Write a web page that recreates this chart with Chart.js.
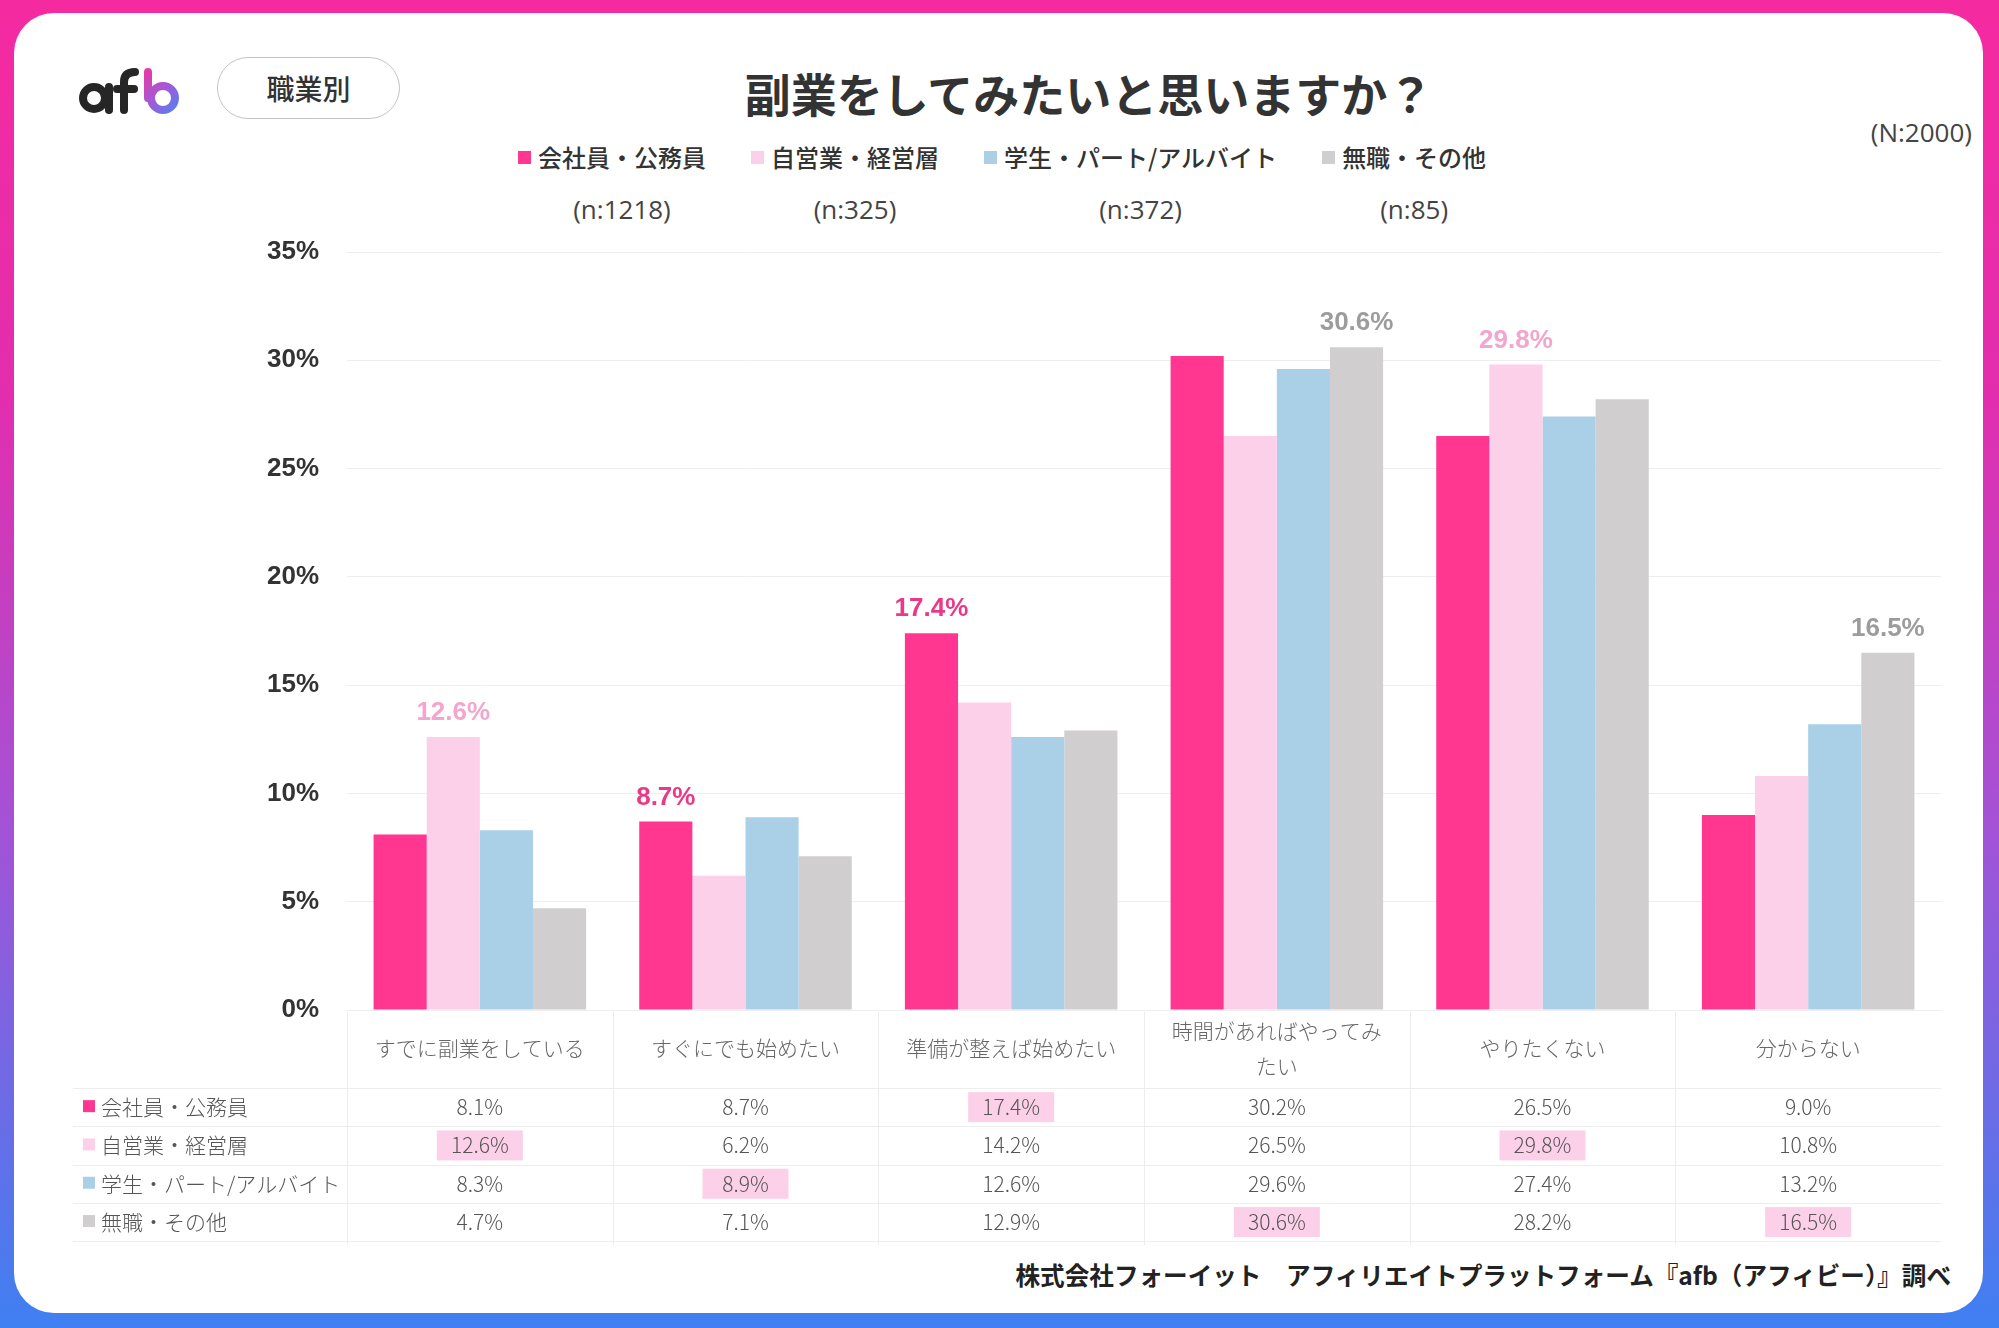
<!DOCTYPE html>
<html lang="ja">
<head>
<meta charset="utf-8">
<title>副業をしてみたいと思いますか？</title>
<script src="https://cdn.jsdelivr.net/npm/chart.js@4.4.1/dist/chart.umd.min.js"></script>
<style>
  html, body { margin: 0; padding: 0; }
  body {
    width: 1999px; height: 1328px; overflow: hidden; position: relative;
    background: linear-gradient(180deg, #f52aa0 0%, #e22eae 30%, #a452d6 62%, #3f80f2 100%);
    font-family: "Noto Sans CJK JP", "Noto Sans", sans-serif;
  }
  .card {
    position: absolute; left: 14px; top: 13px; width: 1969px; height: 1300px;
    background: #fff; border-radius: 40px;
  }
  .pill {
    position: absolute; left: 217px; top: 57px; width: 181px; height: 60px;
    border: 1.5px solid #c4c4c4; border-radius: 31px;
    font-size: 28px; line-height: 60px; text-align: center; color: #333; font-weight: 500;
  }
  .title {
    position: absolute; left: 589px; top: 59px; width: 1000px; text-align: center;
    font-size: 46px; line-height: 66px; font-weight: 700; color: #333;
  }
  .total {
    position: absolute; right: 27px; top: 116px; font-family: "Open Sans", sans-serif;
    font-size: 26px; line-height: 32px; color: #444;
  }
  .legend {
    position: absolute; left: 518px; top: 142px; display: flex; gap: 45px;
  }
  .legend .item { display: flex; align-items: flex-start; }
  .legend .sq { width: 13px; height: 13px; margin-top: 9px; margin-right: 7px; }
  .legend .txt { display: flex; flex-direction: column; align-items: center; }
  .legend .name { font-size: 24px; line-height: 30px; font-weight: 500; color: #333; white-space: nowrap; }
  .legend .n { font-family: "Open Sans", sans-serif; font-size: 26px; line-height: 30px; margin-top: 22px; color: #444; }
  .source {
    position: absolute; right: 48px; top: 1257px; font-size: 24.6px; line-height: 34px;
    font-weight: 700; color: #222; white-space: nowrap;
  }
  #chart { position: absolute; left: 0; top: 0; }
</style>
</head>
<body>
<div class="card"></div>

<svg style="position:absolute;left:0;top:0" width="260" height="140">
  <defs>
    <linearGradient id="bgrad" x1="143" y1="68" x2="184" y2="112" gradientUnits="userSpaceOnUse">
      <stop offset="0" stop-color="#f0369f"/>
      <stop offset="0.5" stop-color="#a259d8"/>
      <stop offset="1" stop-color="#4688f4"/>
    </linearGradient>
  </defs>
  <g fill="none" stroke-width="8" stroke-linecap="round">
    <circle cx="94" cy="98" r="11" stroke="#262626"/>
    <line x1="109" y1="87" x2="109" y2="110" stroke="#262626"/>
    <path d="M124 110 V82 Q124 72 135 72" stroke="#262626"/>
    <line x1="117" y1="89" x2="134" y2="89" stroke="#262626"/>
    <line x1="148" y1="72" x2="148" y2="98" stroke="url(#bgrad)"/>
    <circle cx="163" cy="98" r="12" stroke="url(#bgrad)"/>
  </g>
</svg>

<div class="pill">職業別</div>
<div class="title">副業をしてみたいと思いますか？</div>
<div class="total">(N:2000)</div>
<div class="legend" id="legend"></div>
<div class="source">株式会社フォーイット　アフィリエイトプラットフォーム『afb（アフィビー）』調べ</div>

<canvas id="chart" width="1999" height="1328"></canvas>

<script>
// Categories (answers); the nested one breaks onto two lines
const categories = ['すでに副業をしている', 'すぐにでも始めたい', '準備が整えば始めたい', ['時間があればやってみ', 'たい'], 'やりたくない', '分からない'];

// Series (occupation) names and sample sizes
const seriesNames = ['会社員・公務員', '自営業・経営層', '学生・パート/アルバイト', '無職・その他'];
const seriesN = ['(n:1218)', '(n:325)', '(n:372)', '(n:85)'];

// Values in %
const companyEmployee = [8.1, 8.7, 17.4, 30.2, 26.5, 9.0];
const selfEmployed = [12.6, 6.2, 14.2, 26.5, 29.8, 10.8];
const studentPartTime = [8.3, 8.9, 12.6, 29.6, 27.4, 13.2];
const unemployedOther = [4.7, 7.1, 12.9, 30.6, 28.2, 16.5];

// Y-axis tick values
const yTicks = [0, 5, 10, 15, 20, 25, 30, 35];

// which series gets the value label above its bar, and which table cell is highlighted
const labeledSeries = [1, 0, 0, 3, 1, 3];
const highlightedSeries = [1, 2, 0, 3, 1, 3];

const seriesValues = [companyEmployee, selfEmployed, studentPartTime, unemployedOther];
const seriesColors = ['#ff3790', '#fdd0ea', '#aad0e8', '#d1cecf'];
const labelColors = ['#ea3a87', '#f2a6cd', '#7fb3d6', '#9c9c9c'];

// HTML legend
const legendEl = document.getElementById('legend');
seriesNames.forEach((name, i) => {
  const item = document.createElement('div');
  item.className = 'item';
  item.innerHTML = '<div class="sq" style="background:' + seriesColors[i] + '"></div>' +
    '<div class="txt"><div class="name">' + name + '</div><div class="n">' + seriesN[i] + '</div></div>';
  legendEl.appendChild(item);
});

// value labels above the highlighted bars
const barLabels = {
  id: 'barLabels',
  afterDatasetsDraw(chart) {
    const ctx = chart.ctx;
    ctx.save();
    ctx.font = 'bold 26px "Liberation Sans", Arial, sans-serif';
    ctx.textAlign = 'center';
    ctx.textBaseline = 'middle';
    categories.forEach((c, i) => {
      const s = labeledSeries[i];
      const bar = chart.getDatasetMeta(s).data[i];
      ctx.fillStyle = labelColors[s];
      ctx.fillText(seriesValues[s][i].toFixed(1) + '%', bar.x, bar.y - 24);
    });
    ctx.restore();
  }
};

// data table under the x axis
const dataTable = {
  id: 'dataTable',
  afterDraw(chart) {
    const ctx = chart.ctx;
    const area = chart.chartArea;
    const xs = chart.scales.x;
    const catW = (area.right - area.left) / categories.length;
    const top = area.bottom + 78;
    const rowH = 38.3;
    ctx.save();
    ctx.strokeStyle = '#ededed';
    ctx.lineWidth = 1;
    for (let r = 0; r <= seriesNames.length; r++) {
      const y = Math.round(top + r * rowH) + 0.5;
      ctx.beginPath(); ctx.moveTo(73, y); ctx.lineTo(area.right, y); ctx.stroke();
    }
    for (let c = 0; c < categories.length; c++) {
      const x = Math.round(area.left + c * catW) + 0.5;
      ctx.beginPath(); ctx.moveTo(x, area.bottom + 2); ctx.lineTo(x, top + seriesNames.length * rowH + 4); ctx.stroke();
    }
    ctx.font = '300 21px "Noto Sans CJK JP", sans-serif';
    ctx.textBaseline = 'middle';
    seriesValues.forEach((vals, s) => {
      const cy = top + rowH * (s + 0.5);
      ctx.fillStyle = seriesColors[s];
      ctx.fillRect(83, cy - 7, 12, 12);
      ctx.fillStyle = '#555';
      ctx.textAlign = 'left';
      ctx.fillText(seriesNames[s], 101, cy);
      ctx.textAlign = 'center';
      vals.forEach((v, i) => {
        const cx = xs.getPixelForValue(i);
        if (highlightedSeries[i] === s) {
          ctx.fillStyle = '#fcd0e8';
          ctx.fillRect(cx - 43, cy - 15, 86, 30);
        }
        ctx.fillStyle = '#555';
        ctx.fillText(v.toFixed(1) + '%', cx, cy);
      });
    });
    ctx.restore();
  }
};

new Chart(document.getElementById('chart'), {
  type: 'bar',
  data: {
    labels: categories,
    datasets: seriesNames.map((name, i) => ({
      label: name,
      data: seriesValues[i],
      backgroundColor: seriesColors[i],
      borderWidth: 0,
      categoryPercentage: 0.8,
      barPercentage: 1.0
    }))
  },
  options: {
    responsive: false,
    devicePixelRatio: 1,
    animation: false,
    layout: { padding: { top: 252, right: 58, bottom: 238, left: 0 } },
    plugins: { legend: { display: false }, tooltip: { enabled: false } },
    scales: {
      x: {
        grid: { display: false, drawTicks: false },
        border: { display: false },
        ticks: {
          color: '#666',
          font: { family: '"Noto Sans CJK JP", sans-serif', size: 21, weight: '300', lineHeight: 1.65 },
          padding: 21,
          crossAlign: 'center',
          maxRotation: 0,
          autoSkip: false
        },
        afterFit(scale) { scale.height = 80; }
      },
      y: {
        min: yTicks[0],
        max: yTicks[yTicks.length - 1],
        afterBuildTicks(scale) { scale.ticks = yTicks.map(v => ({ value: v })); },
        grid: { color: '#eeeeee', drawTicks: false },
        border: { display: false },
        ticks: {
          color: '#333',
          font: { family: '"Liberation Sans", Arial, sans-serif', size: 26, weight: 'bold' },
          padding: 28,
          callback: v => v + '%'
        },
        afterFit(scale) { scale.width = 347; }
      }
    }
  },
  plugins: [barLabels, dataTable]
});
</script>
</body>
</html>
